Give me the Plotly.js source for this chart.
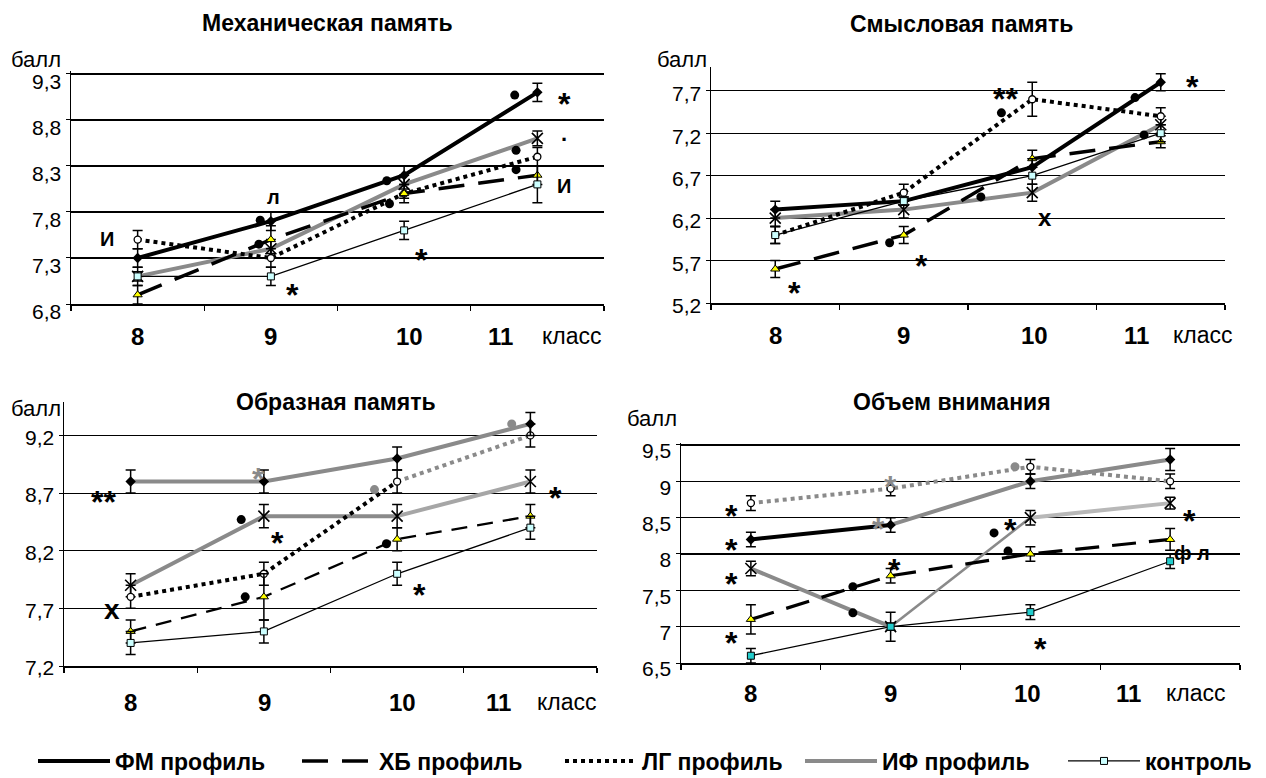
<!DOCTYPE html>
<html><head><meta charset="utf-8">
<script src="https://cdn.plot.ly/plotly-3.0.1.min.js"></script>
<style>html,body{margin:0;padding:0;background:#fff}#chart{width:1266px;height:778px}</style>
</head><body><div id="chart"></div>
<script>
// ---------- DATA ----------
const grades = [8, 9, 10, 11];
const gradeLabels = ['8', '9', '10', '11'];
const seriesNames = ['ФМ профиль', 'ХБ профиль', 'ЛГ профиль', 'ИФ профиль', 'контроль'];
const panelTitles = ['Механическая память', 'Смысловая память', 'Образная память', 'Объем внимания'];
const yUnit = 'балл';
const xUnit = 'класс';

// Механическая память
const mechFM = [7.3, 7.7, 8.2, 9.1];
const mechHB = [6.9, 7.5, 8.0, 8.2];
const mechLG = [7.5, 7.3, 8.0, 8.4];
const mechIF = [7.1, 7.4, 8.1, 8.6];
const mechCT = [7.1, 7.1, 7.6, 8.1];
const mechFMErr = [0.1, 0.1, 0.1, 0.1];
const mechHBErr = [0.1, 0.15, 0.05, 0.1];
const mechLGErr = [0.1, 0.1, 0.1, 0.1];
const mechIFErr = [0.1, 0.1, 0.1, 0.08];
const mechCTErr = [0.05, 0.1, 0.1, 0.2];
const mechNoteText = ['И', '*', 'л', '*', '*', '*', '.', 'И'];
const mechNoteX = [7.77, 7.86, 9.02, 9.16, 10.13, 11.2, 11.2, 11.2];
const mechNoteY = [7.51, 6.79, 7.96, 6.97, 7.35, 9.05, 8.58, 8.08];
const mechDotX = [8.92, 8.91, 9.87, 9.89, 10.83, 10.84, 10.84];
const mechDotY = [7.71, 7.45, 8.14, 7.89, 9.07, 8.47, 8.26];

// Смысловая память
const semFM = [6.3, 6.4, 6.8, 7.8];
const semHB = [5.6, 6.0, 6.9, 7.1];
const semLG = [6.0, 6.5, 7.6, 7.4];
const semIF = [6.2, 6.3, 6.5, 7.3];
const semCT = [6.0, 6.4, 6.7, 7.2];
const semFMErr = [0.1, 0.05, 0.1, 0.1];
const semHBErr = [0.1, 0.1, 0.1, 0.07];
const semLGErr = [0.1, 0.1, 0.2, 0.1];
const semIFErr = [0.1, 0.1, 0.1, 0.1];
const semCTErr = [0.1, 0.05, 0.1, 0.1];
const semNoteText = ['**', '*', 'x', '*', '*'];
const semNoteX = [9.79, 11.25, 10.1, 9.14, 8.15];
const semNoteY = [7.69, 7.83, 6.21, 5.72, 5.40];
const semDotX = [9.76, 8.89, 9.6, 10.8, 10.87];
const semDotY = [7.44, 5.91, 6.45, 7.62, 7.18];

// Образная память
const figFM = [8.8, 8.8, 9.0, 9.3];
const figHB = [7.5, 7.8, 8.3, 8.5];
const figLG = [7.8, 8.0, 8.8, 9.2];
const figIF = [7.9, 8.5, 8.5, 8.8];
const figCT = [7.4, 7.5, 8.0, 8.4];
const figFMErr = [0.1, 0.1, 0.1, 0.1];
const figHBErr = [0.1, 0.2, 0.1, 0.1];
const figLGErr = [0.1, 0.1, 0.1, 0.1];
const figIFErr = [0.1, 0.1, 0.1, 0.1];
const figCTErr = [0.1, 0.1, 0.1, 0.1];
const figNoteText = ['**', '*', '*', '*', '*', 'x'];
const figNoteX = [7.8, 8.96, 9.1, 10.17, 11.19, 7.86];
const figNoteY = [8.68, 8.88, 8.33, 7.88, 8.72, 7.69];
const figNoteGray = [false, true, false, false, false, false];
const figDotX = [8.83, 8.86, 9.92, 9.83, 10.86];
const figDotY = [8.47, 7.80, 8.26, 8.73, 9.3];
const figDotGray = [false, false, false, true, true];

// Объем внимания
const attFM = [8.2, 8.4, 9.0, 9.3];
const attHB = [7.1, 7.7, 8.0, 8.2];
const attLG = [8.7, 8.9, 9.2, 9.0];
const attIF = [7.8, 7.0, 8.5, 8.7];
const attCT = [6.6, 7.0, 7.2, 7.9];
const attFMErr = [0.1, 0.1, 0.1, 0.15];
const attHBErr = [0.2, 0.1, 0.1, 0.15];
const attLGErr = [0.1, 0.1, 0.1, 0.1];
const attIFErr = [0.1, 0.2, 0.1, 0.08];
const attCTErr = [0.1, 0.05, 0.1, 0.1];
const attNoteText = ['*', '*', '*', '*', '*', '*', '*', '*', '*', '*', 'ф л'];
const attNoteX = [7.86, 7.86, 7.86, 7.86, 9.0, 8.91, 9.03, 9.86, 10.07, 11.14, 11.16];
const attNoteY = [8.62, 8.15, 7.68, 6.87, 9.02, 8.44, 7.88, 8.43, 6.79, 8.55, 8.01];
const attNoteGray = [false, false, false, false, true, true, false, false, false, false, false];
const attDotX = [9.74, 9.84, 8.73, 8.73, 9.89];
const attDotY = [8.29, 8.04, 7.55, 7.19, 9.2];
const attDotGray = [false, false, false, false, true];

// ---------- STYLE / LAYOUT ----------
const W = 1266, H = 778;
const FONT = 'Arial, "Liberation Sans", sans-serif';
const GRAY = '#8a8a8a', LGRAY = '#b8b8b8';

const geom = [
  {x0: 71, x1: 604, y0: 71.2, y1: 304, yr: [6.8, 9.33], tick0: 6.8, fmt: '.1f', tshift: 8,
   title: [327, 23], ball: [36, 59], klass: [572, 336], labY: 336, labShift: [0, 0, 5, -37]},
  {x0: 711, x1: 1225, y0: 67, y1: 303, yr: [5.2, 7.98], tick0: 5.2, fmt: '.1f', tshift: 3,
   title: [961, 24], ball: [682, 59], klass: [1203, 335], labY: 335, labShift: [0, 0, 2, -24]},
  {x0: 64, x1: 597, y0: 402, y1: 666, yr: [7.2, 9.49], tick0: 7.2, fmt: '.1f', tshift: 2,
   title: [336, 402], ball: [36, 408], klass: [567, 702], labY: 702, labShift: [0, 1, 5, -32]},
  {x0: 681, x1: 1240, y0: 442.8, y1: 663, yr: [6.5, 9.53], tick0: 6.5, fmt: '', tshift: 6,
   title: [952, 402], ball: [652, 418], klass: [1196, 693], labY: 693, labShift: [0, 0, -3, -42]}
];

const baseStyle = {
  FM: {line: {color: '#000', width: 4}, marker: {symbol: 'diamond', size: 8, color: '#000'}},
  HB: {line: {color: '#000', width: 3.5, dash: '26px,14px'}, marker: {symbol: 'triangle-up', size: 8, color: '#ffff00', line: {color: '#000', width: 1}}},
  LG: {line: {color: '#000', width: 4, dash: '4px,4px'}, marker: {symbol: 'circle', size: 7, color: '#fff', line: {color: '#000', width: 1.3}}},
  IF: {line: {color: GRAY, width: 4}, marker: {symbol: 'x-thin', size: 11, color: '#000', line: {color: '#000', width: 1.6}}},
  CT: {line: {color: '#000', width: 1.3}, marker: {symbol: 'square', size: 7, color: '#ccffff', line: {color: '#000', width: 1}}}
};

const panelData = [
  {FM: [mechFM, mechFMErr], HB: [mechHB, mechHBErr], LG: [mechLG, mechLGErr], IF: [mechIF, mechIFErr], CT: [mechCT, mechCTErr],
   notes: [mechNoteText, mechNoteX, mechNoteY, null], dots: [mechDotX, mechDotY, null]},
  {FM: [semFM, semFMErr], HB: [semHB, semHBErr], LG: [semLG, semLGErr], IF: [semIF, semIFErr], CT: [semCT, semCTErr],
   notes: [semNoteText, semNoteX, semNoteY, null], dots: [semDotX, semDotY, null]},
  {FM: [figFM, figFMErr], HB: [figHB, figHBErr], LG: [figLG, figLGErr], IF: [figIF, figIFErr], CT: [figCT, figCTErr],
   notes: [figNoteText, figNoteX, figNoteY, figNoteGray], dots: [figDotX, figDotY, figDotGray]},
  {FM: [attFM, attFMErr], HB: [attHB, attHBErr], LG: [attLG, attLGErr], IF: [attIF, attIFErr], CT: [attCT, attCTErr],
   notes: [attNoteText, attNoteX, attNoteY, attNoteGray], dots: [attDotX, attDotY, attDotGray]}
];

// segment overrides per panel: [from, to, lineOverride]
const segOverrides = {
  2: {FM: [[0, 3, {color: GRAY}]],
      HB: [[0, 3, {width: 2.3, dash: '16px,10px'}]],
      LG: [[0, 2, {}], [2, 3, {color: GRAY}]],
      IF: [[0, 2, {}], [2, 3, {color: '#a6a6a6'}]]},
  3: {FM: [[0, 1, {}], [1, 3, {color: GRAY}]],
      LG: [[0, 3, {color: GRAY}]],
      IF: [[0, 1, {}], [1, 2, {width: 2.6}], [2, 3, {color: LGRAY}]],
      HB: [[0, 3, {dash: '24px,13px', width: 3.2}]]}
};
const markerOverrides = {3: {CT: {color: '#22cccc'}}};

const keys = ['FM', 'HB', 'LG', 'IF', 'CT'];
const drawOrder = ['IF', 'LG', 'HB', 'FM', 'CT'];
const traces = [];
const layout = {
  width: W, height: H, margin: {l: 0, r: 0, t: 0, b: 0, autoexpand: false},
  paper_bgcolor: '#fff', plot_bgcolor: 'rgba(0,0,0,0)',
  separators: ', ', showlegend: true,
  font: {family: FONT, color: '#000'},
  legend: {orientation: 'h', x: 33 / W, xanchor: 'left', y: 1 - 761 / H, yanchor: 'middle',
           font: {family: FONT, size: 23, color: '#000', weight: 'bold'}, itemwidth: 72,
           bgcolor: 'rgba(0,0,0,0)', traceorder: 'normal', borderwidth: 0},
  annotations: [], shapes: []
};

const legendWidths = {FM: 177, HB: 176, LG: 153, IF: 176, CT: 120};

function paperNote(px, py, text, size) {
  return {x: px / W, y: 1 - py / H, xref: 'paper', yref: 'paper', xanchor: 'center', yanchor: 'middle',
    text, showarrow: false, font: {family: FONT, size, color: '#000'}};
}

geom.forEach((g, i) => {
  const n = i === 0 ? '' : String(i + 1);
  const xa = 'x' + n, ya = 'y' + n;
  layout['xaxis' + n] = {
    domain: [g.x0 / W, g.x1 / W], anchor: ya, range: [7.5, 11.5],
    showgrid: false, zeroline: false, showline: true, linecolor: '#000', linewidth: 1.5,
    ticks: 'outside', ticklen: 5, tickcolor: '#000', tickwidth: 1.2,
    tickmode: 'array', tickvals: [7.5, 8.5, 9.5, 10.5, 11.5], showticklabels: false, fixedrange: true
  };
  layout['yaxis' + n] = {
    domain: [1 - g.y1 / H, 1 - g.y0 / H], anchor: xa, range: g.yr,
    tickmode: 'linear', tick0: g.tick0, dtick: 0.5, tickformat: g.fmt,
    showgrid: true, gridcolor: '#000', gridwidth: 1.1, zeroline: false,
    showline: true, linecolor: '#000', linewidth: 1.5,
    ticks: 'outside', ticklen: 4, tickcolor: '#000', ticklabelshift: g.tshift,
    tickfont: {family: FONT, size: 21, color: '#000'}, fixedrange: true
  };

  const pd = panelData[i];
  drawOrder.forEach(k => {
    const [yv, ev] = pd[k];
    const st = baseStyle[k];
    const legend = i === 0;
    const rank = keys.indexOf(k) + 1;
    const name = seriesNames[keys.indexOf(k)];
    const mk = Object.assign({}, st.marker, (markerOverrides[i] || {})[k] || {});
    if (k === 'CT') {
      traces.push({x: grades, y: yv, xaxis: xa, yaxis: ya, mode: 'lines+markers', name,
        line: st.line, marker: mk, showlegend: legend, legendrank: rank, legendwidth: legendWidths[k],
        error_y: {type: 'data', array: ev, color: '#000', thickness: 1.5, width: 5}, hoverinfo: 'skip'});
      return;
    }
    const segs = ((segOverrides[i] || {})[k]) || [[0, 3, {}]];
    segs.forEach((s, si) => {
      traces.push({x: grades.slice(s[0], s[1] + 1), y: yv.slice(s[0], s[1] + 1), xaxis: xa, yaxis: ya,
        mode: 'lines', name, line: Object.assign({}, st.line, s[2]),
        showlegend: legend && si === 0, legendrank: rank, legendwidth: legendWidths[k], hoverinfo: 'skip'});
    });
    traces.push({x: grades, y: yv, xaxis: xa, yaxis: ya, mode: 'markers', name, marker: mk,
      showlegend: false, error_y: {type: 'data', array: ev, color: '#000', thickness: 1.5, width: 5}, hoverinfo: 'skip'});
  });

  // significance dots
  const [dx, dy, dg] = pd.dots;
  traces.push({x: dx, y: dy, xaxis: xa, yaxis: ya, mode: 'markers', showlegend: false, hoverinfo: 'skip',
    marker: {symbol: 'circle', size: 9, color: dy.map((_, j) => dg && dg[j] ? GRAY : '#000')}});

  // notes
  const [nt, nx, ny, ng] = pd.notes;
  nt.forEach((t, j) => {
    let size = 20, ysh = 0;
    if (t.indexOf('*') >= 0) { size = 32; ysh = -7; }
    else if (t === '.') { size = 22; ysh = 7; }
    else if (t === 'x') { size = i === 2 ? 28 : 24; }
    layout.annotations.push({x: nx[j], y: ny[j], xref: xa, yref: ya, xanchor: 'center', yanchor: 'middle',
      text: '<b>' + t + '</b>', showarrow: false,
      yshift: ysh, font: {family: FONT, size, color: ng && ng[j] ? GRAY : '#000'}});
  });

  // titles & labels
  layout.annotations.push(paperNote(g.title[0], g.title[1], '<b>' + panelTitles[i] + '</b>', 23));
  layout.annotations.push(paperNote(g.ball[0], g.ball[1], yUnit, 22));
  layout.annotations.push(paperNote(g.klass[0], g.klass[1], xUnit, 23));
  grades.forEach((gr, j) => {
    layout.annotations.push({x: gr, y: 1 - g.labY / H, xref: xa, yref: 'paper', xanchor: 'center', yanchor: 'middle',
      xshift: g.labShift[j], text: '<b>' + gradeLabels[j] + '</b>', showarrow: false,
      font: {family: FONT, size: 24, color: '#000'}});
  });
});

Plotly.newPlot('chart', traces, layout, {staticPlot: true, displayModeBar: false});
</script>
</body></html>
